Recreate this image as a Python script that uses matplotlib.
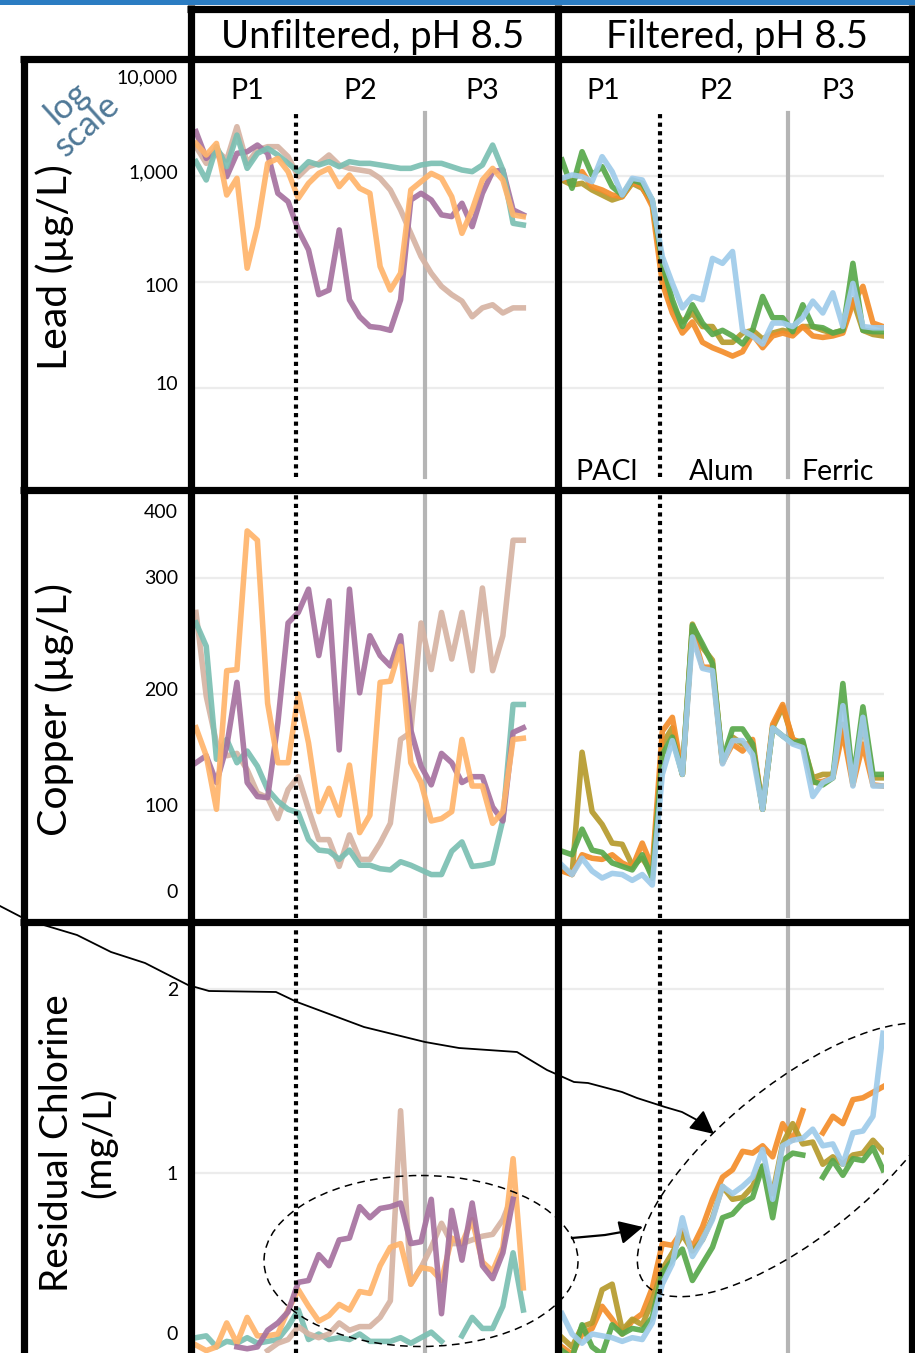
import numpy as np
import matplotlib
matplotlib.use("Agg")
import matplotlib.pyplot as plt
from matplotlib.patches import Ellipse, Rectangle

plt.rcParams["font.family"] = ["Lato", "DejaVu Sans"]

nan = np.nan
W, H = 915, 1353          # output size in pixels (dpi 100)

# ---------------------------------------------------------------- data
# 33 sampling days per condition
day = np.arange(33)
phase_edges_unf = [9.8, 22.4]     # P1|P2 (dotted), P2|P3 (grey)
phase_edges_filt = [9.75, 22.5]

# lead, unfiltered (ug/L)
pb_unf_tan = [1890, 1316, 1758, 1415, 2917, 1316, 1758, 1890, 1890, 1521, 986,
              1224, 1316, 1578, 1270, 1181, 1139, 1099, 951, 738, 479, 288, 174,
              121, 91, 76, 66, 47, 57, 61, 51, 57, 57]
pb_unf_purple = [2620, 1466, 1758, 986, 1635, 1694, 1958, 1635, 687, 573, 310,
                 201, 76, 84, 310, 68, 47, 38, 37, 35, 68, 594, 687, 594, 430,
                 414, 553, 333, 687, 1099, 1139, 479, 430]
pb_unf_teal = [1365, 917, 1889, 1224, 2433, 1181, 1635, 1823, 1578, 1316, 1099,
               1365, 1270, 1365, 1224, 1365, 1316, 1316, 1270, 1224, 1181, 1181,
               1270, 1316, 1316, 1224, 1139, 1099, 1270, 1958, 1139, 358, 345]
pb_unf_orange = [2031, 1578, 2031, 662, 951, 135, 333, 1316, 1466, 1099, 617,
                 853, 1059, 1181, 794, 1022, 766, 687, 140, 84, 121, 738, 885,
                 1059, 951, 638, 288, 479, 917, 1181, 917, 430, 414]

# lead, filtered (ug/L)
pb_filt_orange = [951, 917, 1099, 794, 738, 662, 638, 885, 794, 514, 97, 51, 33,
                  42, 27, 24, 22, 20, 22, 32, 24, 31, 33, 31, 38, 31, 30, 31, 33,
                  63, 91, 41, 38]
pb_filt_olive = [917, 823, 853, 738, 662, 594, 638, 853, 766, 553, 130, 59, 42,
                 51, 38, 38, 27, 27, 33, 35, 29, 33, 35, 33, 38, 38, 35, 33, 35,
                 68, 35, 32, 31]
pb_filt_green = [1415, 766, 1694, 1022, 1224, 794, 662, 917, 853, 594, 150, 68,
                 38, 61, 41, 32, 35, 31, 26, 35, 73, 46, 46, 34, 61, 38, 37, 33,
                 35, 150, 35, 34, 34]
pb_filt_blue = [951, 1022, 986, 885, 1521, 1099, 662, 951, 917, 594, 174, 97, 57,
                73, 68, 167, 150, 194, 35, 31, 26, 41, 41, 38, 46, 66, 51, 79, 38,
                97, 38, 37, 37]

# copper, unfiltered (ug/L)
cu_unf_tan = [270, 198, 158, 147, 149, 135, 115, 111, 93, 118, 129, 101, 75, 75,
              52, 79, 58, 58, 72, 89, 161, 167, 261, 221, 270, 230, 270, 220, 291,
              220, 250, 332, 332]
cu_unf_purple = [141, 147, 124, 155, 210, 124, 112, 111, 175, 261, 270, 290, 233,
                 280, 152, 290, 201, 250, 233, 224, 250, 169, 138, 122, 149, 141,
                 124, 129, 129, 103, 91, 167, 171]
cu_unf_teal = [261, 241, 144, 161, 141, 151, 138, 118, 108, 101, 98, 75, 66, 65,
               58, 66, 53, 53, 50, 49, 56, 53, 49, 45, 45, 65, 73, 52, 53, 55, 92,
               191, 191]
cu_unf_orange = [171, 147, 101, 220, 221, 340, 332, 192, 141, 141, 200, 158, 99,
                 119, 96, 139, 81, 96, 210, 211, 241, 141, 124, 91, 93, 99, 161,
                 121, 121, 89, 99, 161, 162]

# copper, filtered (ug/L)
cu_filt_orange = [48, 45, 62, 59, 58, 62, 55, 51, 72, 51, 168, 180, 131, 255, 223,
                  223, 141, 157, 151, 161, 101, 174, 191, 161, 157, 124, 125, 128,
                  168, 122, 157, 122, 121]
cu_filt_olive = [51, 45, 150, 99, 88, 72, 71, 53, 59, 46, 157, 171, 131, 260, 240,
                 229, 141, 163, 157, 157, 101, 171, 189, 161, 158, 128, 131, 131,
                 174, 125, 177, 128, 128]
cu_filt_green = [65, 62, 84, 66, 64, 55, 52, 49, 62, 42, 148, 163, 131, 259, 243,
                 226, 143, 170, 170, 157, 101, 171, 164, 158, 160, 125, 122, 128,
                 209, 125, 189, 131, 131]
cu_filt_blue = [53, 45, 59, 48, 42, 46, 45, 40, 45, 36, 131, 160, 131, 249, 222,
                220, 140, 160, 160, 148, 101, 171, 164, 157, 154, 112, 124, 128,
                190, 121, 180, 121, 121]

# residual chlorine, unfiltered (mg/L)
cl_unf_tan = [nan, nan, nan, nan, nan, nan, nan, 0.04, 0.08, 0.10, 0.17, 0.13,
              0.11, 0.13, 0.19, 0.15, 0.17, 0.17, 0.22, 0.31, 1.34, 0.40, 0.49,
              0.60, 0.73, 0.62, 0.62, 0.64, 0.66, 0.67, 0.75, 0.89, nan]
cl_unf_purple = [nan, nan, nan, nan, 0.06, 0.05, 0.06, 0.15, 0.19, 0.25, 0.41,
                 0.42, 0.56, 0.50, 0.64, 0.65, 0.82, 0.76, 0.81, 0.82, 0.84, 0.62,
                 0.63, 0.86, 0.24, 0.80, 0.53, 0.84, 0.50, 0.43, 0.57, 0.86, nan]
cl_unf_teal = [0.11, 0.12, 0.06, 0.09, 0.08, 0.11, 0.08, 0.09, 0.10, 0.17, 0.26,
               0.10, 0.13, 0.10, 0.11, 0.10, 0.13, 0.09, 0.09, 0.09, 0.11, 0.08,
               0.11, 0.14, 0.09, nan, 0.12, 0.22, 0.16, 0.16, 0.28, 0.57, 0.26]
cl_unf_orange = [0.07, 0.04, 0.06, 0.19, 0.08, 0.22, 0.12, 0.12, 0.13, 0.26, 0.37,
                 0.28, 0.20, 0.23, 0.29, 0.26, 0.36, 0.35, 0.50, 0.60, 0.62, 0.40,
                 0.49, 0.48, 0.42, 0.65, 0.62, 0.75, 0.52, 0.47, 0.60, 1.08, 0.38]

# residual chlorine, filtered (mg/L)
cl_filt_orange = [0.06, 0.02, 0.13, 0.16, 0.28, 0.21, 0.13, 0.20, 0.24, 0.38,
                  0.62, 0.61, 0.69, 0.60, 0.71, 0.86, 0.98, 1.02, 1.12, 1.11, 1.15,
                  1.09, 1.27, 1.18, 1.34, nan, 1.22, 1.31, 1.27, 1.40, 1.41, 1.44,
                  1.47]
cl_filt_olive = [0.11, 0.06, 0.17, 0.19, 0.37, 0.40, 0.15, 0.21, 0.18, 0.31, 0.48,
                 0.57, 0.67, 0.58, 0.64, 0.76, 0.93, 0.86, 0.87, 0.93, 1.04, 0.89,
                 1.16, 1.27, 1.16, 1.17, 1.05, 1.09, 1.05, 1.10, 1.11, 1.18, 1.12]
cl_filt_green = [0.04, 0.00, 0.18, 0.06, 0.02, 0.18, 0.13, 0.16, 0.15, 0.22, 0.46,
                 0.53, 0.59, 0.42, 0.51, 0.60, 0.76, 0.78, 0.84, 0.87, 1.04, 0.76,
                 1.07, 1.11, 1.10, nan, 0.98, 1.07, 0.99, 1.08, 1.07, 1.14, 1.02]
cl_filt_blue = [0.24, 0.13, 0.08, 0.13, 0.12, 0.11, 0.09, 0.11, 0.10, 0.19, 0.40,
                0.51, 0.76, 0.55, 0.64, 0.75, 0.93, 0.89, 0.93, 0.98, 1.13, 0.86,
                1.15, 1.18, 1.19, 1.24, 1.15, 1.16, 1.05, 1.22, 1.23, 1.31, 1.76]

col_titles = ["Unfiltered, pH 8.5", "Filtered, pH 8.5"]
phase_labels = ["P1", "P2", "P3"]
coag_labels = ["PACl", "Alum", "Ferric"]
row_labels = ["Lead (µg/L)", "Copper (µg/L)", "Residual Chlorine\n(mg/L)"]
lead_ticks = ["10,000", "1,000", "100", "10"]
cu_ticks = ["400", "300", "200", "100", "0"]
cl_ticks = ["2", "1", "0"]

# ---------------------------------------------------------------- styling
UNF_COLORS = {"tan": "#d6b3a3", "purple": "#a672a0", "teal": "#7bbfb2",
              "orange": "#ffb46b"}
FILT_COLORS = {"orange": "#f48d2a", "olive": "#b59a2c", "green": "#58a84b",
               "blue": "#9fcbea"}
LW = 4.0
FRAME_LW = 5.2


def px_box(x0, y0, x1, y1):
    return [x0 / W, 1 - y1 / H, (x1 - x0) / W, (y1 - y0) / H]


fig = plt.figure(figsize=(W / 100, H / 100), dpi=100)

cols = {"unf": dict(x=(195, 554), xlim=(-0.1, 35.0), edges=phase_edges_unf,
                    colors=UNF_COLORS),
        "filt": dict(x=(561, 884), xlim=(-0.1, 32.1), edges=phase_edges_filt,
                     colors=FILT_COLORS)}
rows = {"pb": dict(y=(63, 486), ylim=(1.19, 11640), log=True,
                   grid=[10, 100, 1000], vspan=(0.021, 0.882)),
        "cu": dict(y=(494, 918), ylim=(7.7, 371.7), log=False,
                   grid=[100, 200, 300], vspan=(0, 1)),
        "cl": dict(y=(926, 1353), ylim=(0.027, 2.341), log=False,
                   grid=[1, 2], vspan=(0, 1))}

series = {
    ("pb", "unf"): [("tan", pb_unf_tan), ("purple", pb_unf_purple),
                    ("teal", pb_unf_teal), ("orange", pb_unf_orange)],
    ("pb", "filt"): [("olive", pb_filt_olive), ("orange", pb_filt_orange),
                     ("green", pb_filt_green), ("blue", pb_filt_blue)],
    ("cu", "unf"): [("tan", cu_unf_tan), ("teal", cu_unf_teal),
                    ("purple", cu_unf_purple), ("orange", cu_unf_orange)],
    ("cu", "filt"): [("olive", cu_filt_olive), ("orange", cu_filt_orange),
                     ("green", cu_filt_green), ("blue", cu_filt_blue)],
    ("cl", "unf"): [("teal", cl_unf_teal), ("tan", cl_unf_tan),
                    ("orange", cl_unf_orange), ("purple", cl_unf_purple)],
    ("cl", "filt"): [("orange", cl_filt_orange), ("olive", cl_filt_olive),
                     ("green", cl_filt_green), ("blue", cl_filt_blue)],
}

for rk, r in rows.items():
    for ck, c in cols.items():
        ax = fig.add_axes(px_box(c["x"][0], r["y"][0], c["x"][1], r["y"][1]))
        if r["log"]:
            ax.set_yscale("log")
        ax.set_xlim(*c["xlim"])
        ax.set_ylim(*r["ylim"])
        for g in r["grid"]:
            ax.axhline(g, color="#ececec", lw=1.6, zorder=0)
        ax.axvline(c["edges"][0], ymin=r["vspan"][0], ymax=r["vspan"][1],
                   color="k", lw=3.0, ls=(0, (1, 1.05)), zorder=5)
        ax.axvline(c["edges"][1], ymin=r["vspan"][0], ymax=r["vspan"][1],
                   color="#b5b5b5", lw=3.0, zorder=1)
        for name, vals in series[(rk, ck)]:
            ax.plot(day, vals, color=c["colors"][name], lw=LW, alpha=0.92,
                    zorder=2, solid_joinstyle="round")
        ax.set_xticks([]); ax.set_yticks([]); ax.minorticks_off()
        for s in ax.spines.values():
            s.set_visible(False)
        ax.patch.set_alpha(0)

# ---------------------------------------------------------------- overlay
ov = fig.add_axes([0, 0, 1, 1], zorder=10)
ov.set_xlim(0, W); ov.set_ylim(H, 0); ov.axis("off"); ov.patch.set_alpha(0)

ov.add_patch(Rectangle((0, 0), W, 5, color="#2b7cc2", lw=0))

frame = [((187, 9), (W, 9)), ((191, 5), (191, H)), ((558, 5), (558, H)),
         ((912, 5), (912, H)), ((24, 56), (24, H)), ((20, 59), (W, 59)),
         ((20, 490), (W, 490)), ((20, 922), (W, 922))]
for (x0, y0), (x1, y1) in frame:
    ov.plot([x0, x1], [y0, y1], color="k", lw=FRAME_LW, solid_capstyle="butt")

ov.text(373, 37, col_titles[0], ha="center", va="center", fontsize=27.5)
ov.text(737, 37, col_titles[1], ha="center", va="center", fontsize=27.5)

for x, s in zip([247, 360, 482], phase_labels):
    ov.text(x, 91, s, ha="center", va="center", fontsize=20.5)
for x, s in zip([603, 716, 838], phase_labels):
    ov.text(x, 91, s, ha="center", va="center", fontsize=20.5)
for x, s in zip([607, 722, 838], coag_labels):
    ov.text(x, 472, s, ha="center", va="center", fontsize=20.5)

ov.text(77, 114, "log\nscale", rotation=42, ha="center", va="center",
        fontsize=25, color="#4f7897", linespacing=0.9)

ov.text(55, 267, row_labels[0], rotation=90, ha="center", va="center",
        fontsize=29.5)
ov.text(55, 709, row_labels[1], rotation=90, ha="center", va="center",
        fontsize=29.5)
ov.text(78, 1143, row_labels[2], rotation=90, ha="center", va="center",
        fontsize=28, linespacing=1.15)

for s, y in zip(lead_ticks, [78, 173, 287, 384]):
    ov.text(178, y, s, ha="right", va="center", fontsize=14)
for s, y in zip(cu_ticks, [513, 579, 691, 806, 892]):
    ov.text(178, y, s, ha="right", va="center", fontsize=14)
for s, y in zip(cl_ticks, [990, 1175, 1335]):
    ov.text(178, y, s, ha="right", va="center", fontsize=14)

# dashed highlight ellipses
ov.add_patch(Ellipse((421, 1261), 314, 171, fill=False, ls=(0, (5, 3.5)),
                     lw=1.1, color="k"))
ov.add_patch(Ellipse((797, 1160), 392, 152, angle=-39, fill=False,
                     ls=(0, (5, 3.5)), lw=1.1, color="k"))

# hand-drawn connector curve and arrows
cx = [0, 27, 77, 111, 145, 188, 209, 276, 297, 364, 425, 459, 517, 547, 574,
      588, 622, 637, 665, 682, 697]
cy = [906, 920, 935, 952, 963, 985, 991, 992, 1002, 1027, 1042, 1048, 1052,
      1070, 1082, 1083, 1092, 1098, 1107, 1112, 1120]
ov.plot(cx, cy, color="k", lw=1.3)
ov.annotate("", xy=(714, 1134), xytext=(697, 1120),
            arrowprops=dict(arrowstyle="-|>,head_length=0.8,head_width=0.4",
                            color="k", lw=1.4, mutation_scale=18,
                            shrinkA=0, shrinkB=0))
ov.plot([572, 605, 622], [1238, 1235, 1232], color="k", lw=1.6)
ov.annotate("", xy=(643, 1227), xytext=(622, 1232),
            arrowprops=dict(arrowstyle="-|>,head_length=0.8,head_width=0.4",
                            color="k", lw=1.6, mutation_scale=18,
                            shrinkA=0, shrinkB=0))

fig.savefig("out.png", dpi=100)
